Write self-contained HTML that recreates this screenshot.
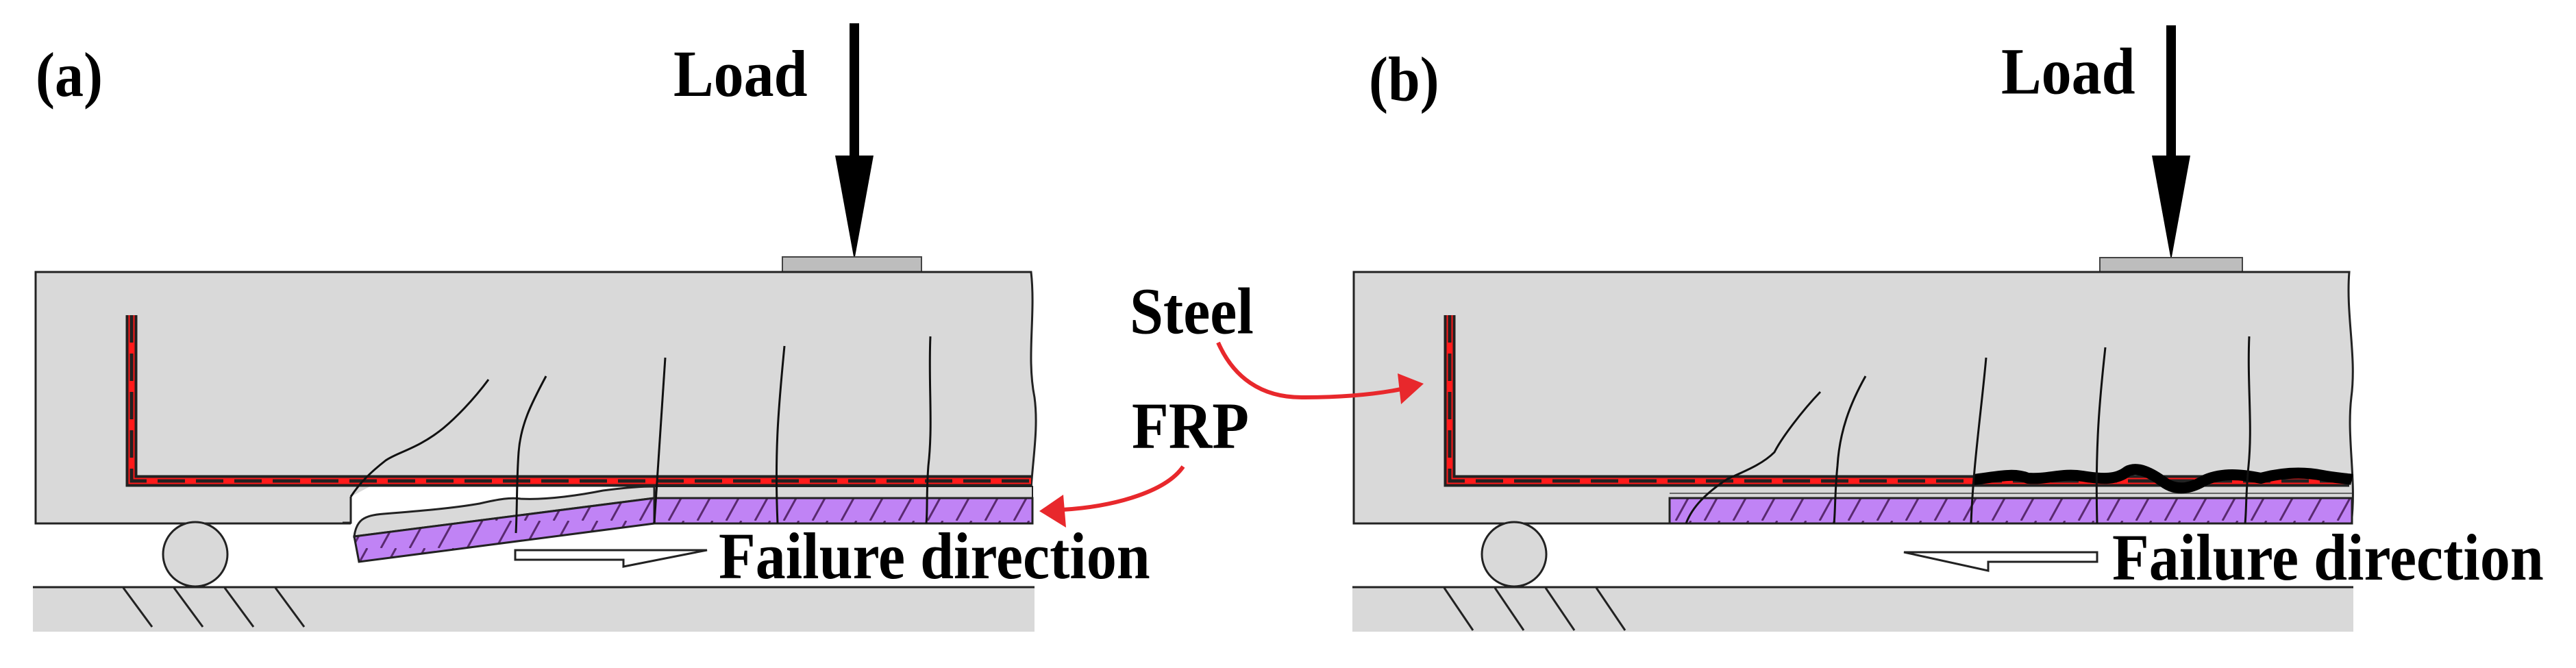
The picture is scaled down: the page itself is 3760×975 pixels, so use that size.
<!DOCTYPE html>
<html><head><meta charset="utf-8"><style>
html,body{margin:0;padding:0;background:#fff;}
svg{display:block;}
text{font-family:"Liberation Serif",serif;font-weight:bold;fill:#000;}
</style></head><body>
<svg width="3760" height="975" viewBox="0 0 3760 975" xmlns="http://www.w3.org/2000/svg">
<defs>
<pattern id="h" patternUnits="userSpaceOnUse" width="42" height="40">
<rect width="42" height="40" fill="#c083f5"/>
<line x1="10" y1="40" x2="32" y2="0" stroke="#5a2a70" stroke-width="3"/>
</pattern>
</defs>

<!-- ===== Panel (a) ===== -->
<text x="52" y="140" font-size="84" transform="translate(0,-14) scale(1,1.1)">(a)</text>
<text x="983" y="139" font-size="88" transform="translate(0,-13) scale(1,1.1)">Load</text>
<rect x="1240" y="34" width="14" height="200" fill="#000"/>
<polygon points="1219,227 1275,227 1247,380" fill="#000"/>
<rect x="1142" y="375" width="203" height="22" fill="#bdbdbd" stroke="#444" stroke-width="2"/>
<path d="M52,397 H1505 C1512,460 1498,520 1510,580 C1518,640 1500,700 1505,764 H52 Z" fill="#d9d9d9" stroke="#222" stroke-width="3"/>
<polygon points="512,766 512,725 540,710 1000,710 1000,766" fill="#fff"/>
<path d="M500,763 H512 V725" fill="none" stroke="#222" stroke-width="3"/>
<rect x="955" y="710" width="552" height="17" fill="#d9d9d9" stroke="#222" stroke-width="2"/>
<rect x="955" y="727" width="552" height="37" fill="url(#h)" stroke="#222" stroke-width="3"/>
<path d="M517,783 C520,760 530,752 560,750 C610,746 660,742 700,735 C730,728 745,726 760,728 C800,730 850,722 880,716 C910,712 935,710 955,710 V727 L517,783 Z" fill="#d9d9d9" stroke="#222" stroke-width="3"/>
<polygon points="517,783 955,727 955,764 524,820" fill="url(#h)" stroke="#222" stroke-width="3"/>
<path d="M192,460 V702 H1505" fill="none" stroke="#222" stroke-width="17"/>
<path d="M192,460 V702 H1505" fill="none" stroke="#ff1a1a" stroke-width="9"/>
<path d="M192,460 V702 H1505" fill="none" stroke="#222" stroke-width="5" stroke-dasharray="40 16"/>
<g fill="none" stroke="#111" stroke-width="3">
<path d="M713,554 C690,585 665,610 647,625 C610,655 580,660 563,672 C540,690 525,705 512,725"/>
<path d="M797,549 C775,590 760,620 757,660 C754,700 755,740 753,778"/>
<path d="M971,522 C966,600 960,680 955,764"/>
<path d="M1145,505 C1138,580 1130,650 1135,764"/>
<path d="M1358,491 C1355,560 1362,620 1355,680 C1352,720 1354,745 1352,764"/>
</g>
<circle cx="285" cy="809" r="47" fill="#d9d9d9" stroke="#222" stroke-width="3"/>
<rect x="48" y="857" width="1462" height="65" fill="#d9d9d9"/>
<line x1="48" y1="857" x2="1510" y2="857" stroke="#222" stroke-width="3"/>
<g stroke="#222" stroke-width="3">
<line x1="180" y1="858" x2="222" y2="915"/>
<line x1="254" y1="858" x2="296" y2="915"/>
<line x1="328" y1="858" x2="370" y2="915"/>
<line x1="402" y1="858" x2="444" y2="915"/>
</g>
<polygon points="752,803 1032,803 910,827 910,817 752,817" fill="#fff" stroke="#222" stroke-width="3"/>
<text x="1049" y="840" font-size="88" transform="translate(0,-80) scale(1,1.1)">Failure direction</text>

<text x="1649" y="484" font-size="88" transform="translate(0,-46) scale(1,1.1)">Steel</text>
<text x="1652" y="652" font-size="88" transform="translate(0,-63) scale(1,1.1)">FRP</text>

<!-- ===== Panel (b) ===== -->
<text x="1998" y="146" font-size="84" transform="translate(0,-14) scale(1,1.1)">(b)</text>
<text x="2921" y="136" font-size="88" transform="translate(0,-13) scale(1,1.1)">Load</text>
<rect x="3162" y="37" width="14" height="200" fill="#000"/>
<polygon points="3141,227 3197,227 3169,380" fill="#000"/>
<rect x="3065" y="376" width="208" height="21" fill="#bdbdbd" stroke="#444" stroke-width="2"/>
<path d="M1976,397 H3429 C3424,460 3440,520 3432,580 C3425,640 3440,700 3432,764 H1976 Z" fill="#d9d9d9" stroke="#222" stroke-width="3"/>
<line x1="2437" y1="720" x2="3433" y2="720" stroke="#666" stroke-width="2"/>
<rect x="2437" y="727" width="996" height="37" fill="url(#h)" stroke="#222" stroke-width="3"/>
<path d="M2116,460 V702 H3429" fill="none" stroke="#222" stroke-width="17"/>
<path d="M2116,460 V702 H3429" fill="none" stroke="#ff1a1a" stroke-width="9"/>
<path d="M2116,460 V702 H3429" fill="none" stroke="#222" stroke-width="5" stroke-dasharray="40 16"/>
<path d="M2881,700 C2920,695 2940,690 2960,698 C2990,700 3010,690 3040,695 C3070,700 3090,700 3105,688 C3120,680 3140,690 3160,705 C3180,718 3200,712 3220,700 C3245,690 3270,692 3300,698 C3330,690 3360,688 3390,694 C3410,698 3425,698 3433,700" fill="none" stroke="#000" stroke-width="16" stroke-linejoin="round"/>
<g fill="none" stroke="#111" stroke-width="3">
<path d="M2657,572 C2630,600 2600,640 2590,660 C2570,680 2540,690 2520,700 C2490,720 2470,740 2461,764"/>
<path d="M2723,549 C2700,590 2685,630 2682,680 C2678,720 2679,745 2677,764"/>
<path d="M2899,522 C2892,600 2880,680 2877,764"/>
<path d="M3073,507 C3065,580 3058,650 3061,764"/>
<path d="M3283,491 C3280,560 3288,620 3282,680 C3278,720 3279,745 3277,764"/>
</g>
<circle cx="2210" cy="809" r="47" fill="#d9d9d9" stroke="#222" stroke-width="3"/>
<rect x="1974" y="857" width="1461" height="65" fill="#d9d9d9"/>
<line x1="1974" y1="857" x2="3435" y2="857" stroke="#222" stroke-width="3"/>
<g stroke="#222" stroke-width="3">
<line x1="2108" y1="858" x2="2150" y2="920"/>
<line x1="2182" y1="858" x2="2224" y2="920"/>
<line x1="2256" y1="858" x2="2298" y2="920"/>
<line x1="2330" y1="858" x2="2372" y2="920"/>
</g>
<polygon points="2779,806 3061,806 3061,820 2902,820 2902,833" fill="#fff" stroke="#222" stroke-width="3"/>
<text x="3083" y="842" font-size="88" transform="translate(0,-80) scale(1,1.1)">Failure direction</text>

<!-- red arrows on top -->
<path d="M1778,500 C1800,550 1840,580 1900,580 C1960,580 2010,575 2045,568" fill="none" stroke="#e8282c" stroke-width="6"/>
<polygon points="2078,560 2040,545 2045,590" fill="#e8282c"/>
<path d="M1727,681 C1700,720 1620,740 1550,744" fill="none" stroke="#e8282c" stroke-width="6"/>
<polygon points="1517,746 1552,722 1556,770" fill="#e8282c"/>
</svg>
</body></html>
